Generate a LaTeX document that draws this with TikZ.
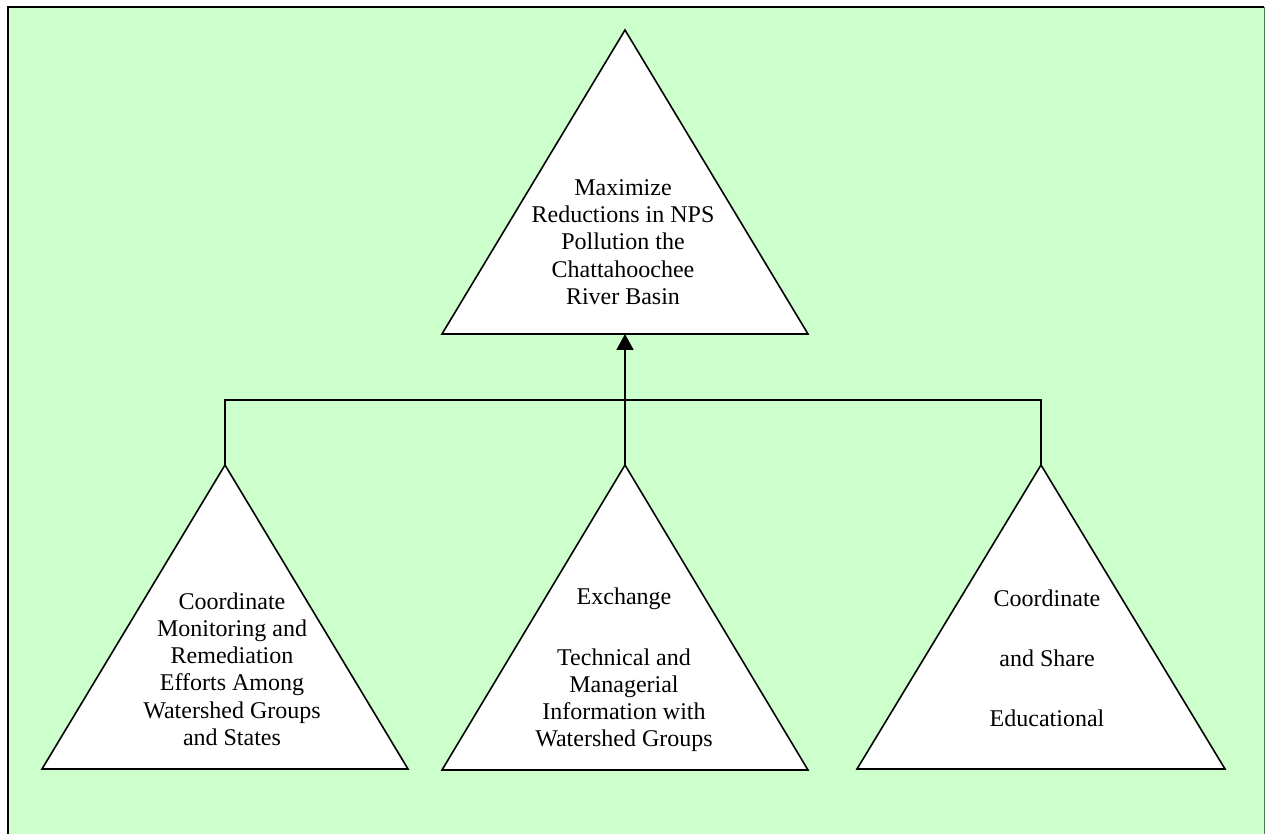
\documentclass[tikz,border=0pt]{standalone}
\usepackage{fontspec}
\setmainfont{Liberation Serif}
\usetikzlibrary{arrows.meta}
\definecolor{bggreen}{RGB}{204,255,204}
\begin{document}
\begin{tikzpicture}[x=0.5pt,y=-0.5pt,
  tri/.style={draw=black, fill=white, line width=0.8pt, line join=miter},
  conn/.style={draw=black, line width=1pt},
  lbl/.style={align=center, font=\fontsize{12pt}{13.6pt}\selectfont, inner sep=0pt}]
\useasboundingbox (0,0) rectangle (1265,834);
% background panel
\fill[bggreen] (8,7) rectangle (1264,834);
\draw[line width=1pt, black] (8,834) -- (8,7) -- (1264,7);
\draw[line width=0.4pt, black!55!green!40!gray] (1264,7) -- (1264,834);
% triangles
\coordinate (topApex) at (625,30);
\coordinate (topBase) at (625,334);
\draw[tri] (topApex) -- (808,334) -- (442,334) -- cycle;
\coordinate (lA) at (225,465);
\draw[tri] (lA) -- (408,769) -- (42,769) -- cycle;
\coordinate (mA) at (625,465);
\draw[tri] (mA) -- (808,770) -- (442,770) -- cycle;
\coordinate (rA) at (1041,465);
\draw[tri] (rA) -- (1225,769) -- (857,769) -- cycle;
% labels
\node[lbl] (topT) at (623,242) {Maximize\\Reductions in NPS\\Pollution the\\Chattahoochee\\River Basin};
\node[lbl] (leftT) at (232,669) {Coordinate\\Monitoring and\\Remediation\\Efforts Among\\Watershed Groups\\and States};
\node[lbl] (midT) at (624,670) {Exchange\\[16.5pt]Technical and\\Managerial\\Information with\\Watershed Groups};
\node[lbl] (rightT) at (1047,658) {Coordinate\\[16.5pt]and Share\\[16.5pt]Educational};
% connectors
\coordinate (bus) at (625,400);
\draw[conn] (lA) |- (bus) -| (rA);
\draw[conn, -{Triangle[length=8pt,width=8.5pt]}] (mA) -- (topBase);
\end{tikzpicture}
\end{document}
